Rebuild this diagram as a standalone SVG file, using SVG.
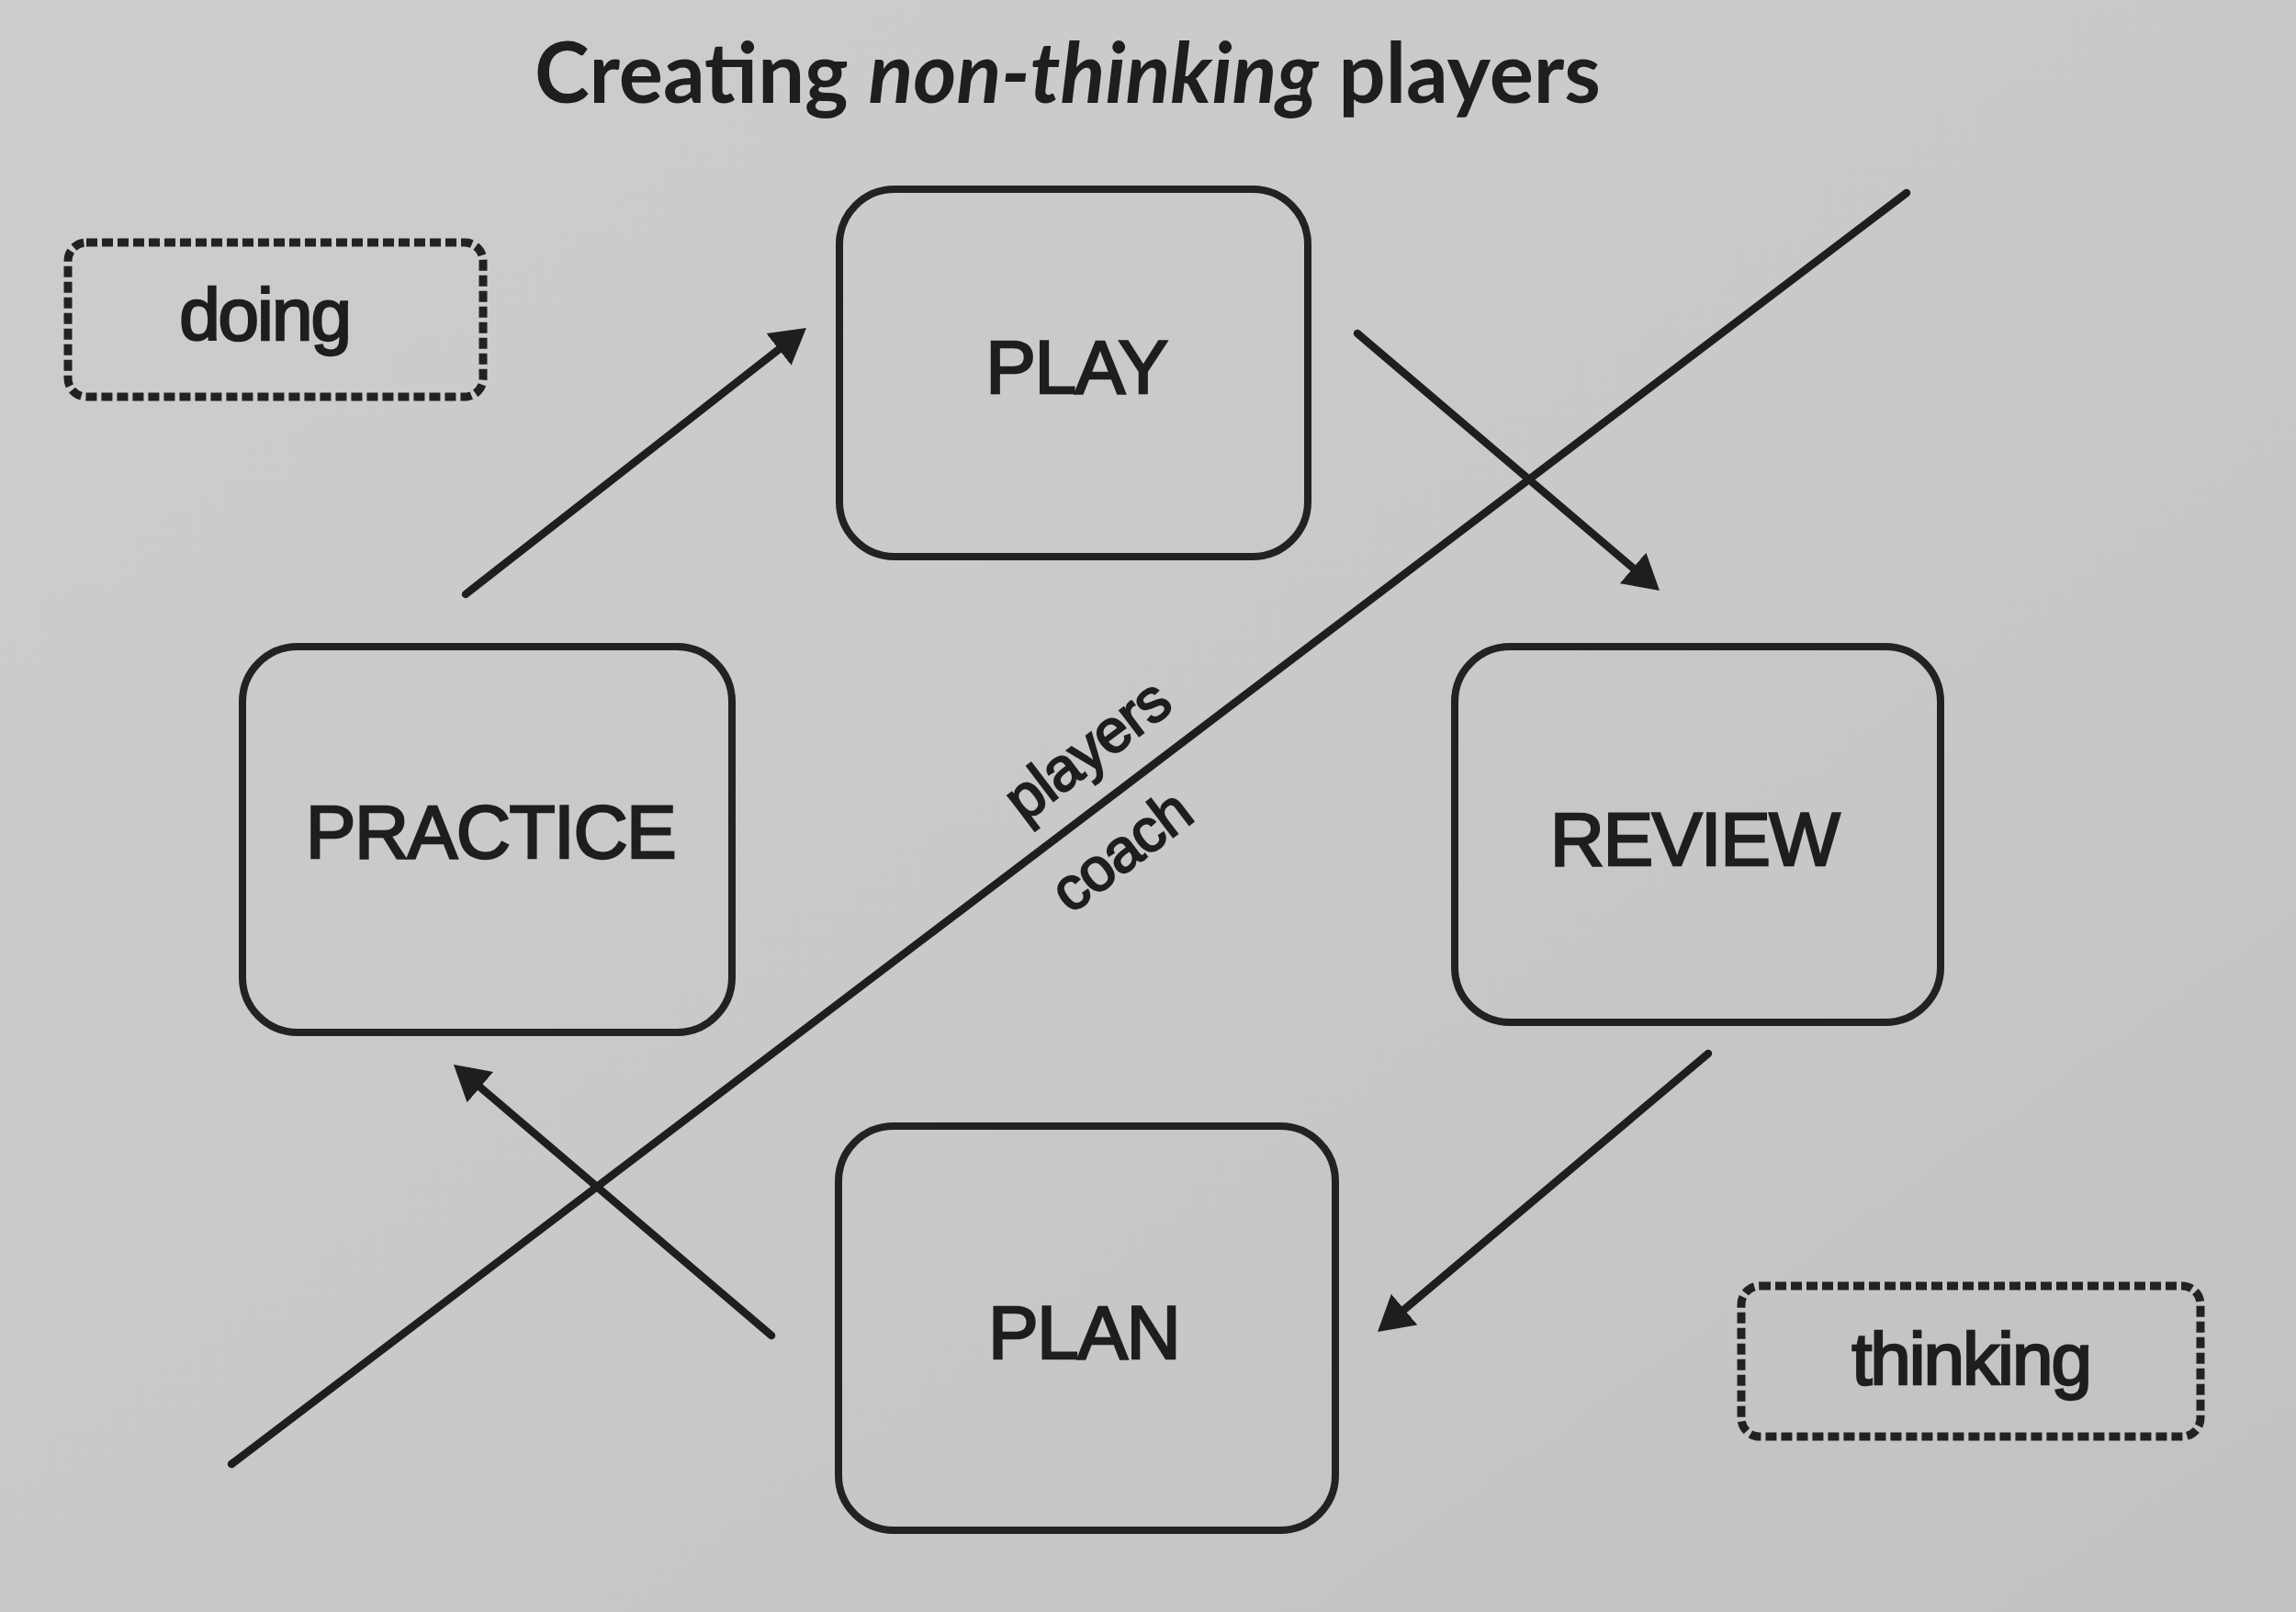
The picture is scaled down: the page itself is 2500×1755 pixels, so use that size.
<svg xmlns="http://www.w3.org/2000/svg" width="2500" height="1755" viewBox="0 0 2500 1755">
  <defs>
    <linearGradient id="paper" x1="0" y1="0" x2="1" y2="1">
      <stop offset="0" stop-color="#cbcecc"/>
      <stop offset="0.5" stop-color="#c7cac8"/>
      <stop offset="1" stop-color="#c0c3c1"/>
    </linearGradient>
    <marker id="arrow" markerUnits="userSpaceOnUse" viewBox="0 0 40 44" refX="26" refY="22" markerWidth="40" markerHeight="44" orient="auto">
      <path d="M0,0 L38,22 L0,44 Z" fill="#1e1e1e"/>
    </marker>
    <style>
      .box { fill: none; stroke: #222; stroke-width: 8; }
      .dash { fill: none; stroke: #222; stroke-width: 9; stroke-dasharray: 12 5; }
      .label { font-family: "Liberation Sans", Arial, sans-serif; font-size: 82px; fill: #1e1e1e; stroke: #1e1e1e; stroke-width: 2.5; text-anchor: middle; letter-spacing: -1.5px; }
      .side { font-family: "Liberation Sans", Arial, sans-serif; font-size: 80px; fill: #1e1e1e; stroke: #1e1e1e; stroke-width: 2.5; text-anchor: middle; letter-spacing: -2px; }
      .diag { font-family: "Liberation Sans", Arial, sans-serif; font-size: 66px; fill: #1e1e1e; stroke: #1e1e1e; stroke-width: 2.2; text-anchor: middle; letter-spacing: -1px; }
      .title { font-family: Lato, "Open Sans", sans-serif; font-size: 92px; font-weight: bold; fill: #1e1e1e; }
      .conn { stroke: #1e1e1e; stroke-width: 8.5; fill: none; stroke-linecap: round; }
    </style>
  </defs>

  <rect x="0" y="0" width="2500" height="1755" fill="url(#paper)"/>

  <g id="title">
    <text class="title" x="582" y="112" textLength="1161" lengthAdjust="spacingAndGlyphs">Creating <tspan font-style="italic">non-thinking</tspan> players</text>
  </g>

  <g id="connectors">
    <line class="conn" x1="252" y1="1594" x2="2076" y2="210" stroke-width="9.5"/>
    <line class="conn" x1="507" y1="647" x2="868.5" y2="364.4" marker-end="url(#arrow)"/>
    <line class="conn" x1="1478" y1="363" x2="1797.9" y2="635.2" marker-end="url(#arrow)"/>
    <line class="conn" x1="1860" y1="1147" x2="1509.2" y2="1442.3" marker-end="url(#arrow)"/>
    <line class="conn" x1="840" y1="1454" x2="503.1" y2="1166.8" marker-end="url(#arrow)"/>
  </g>

  <g id="divider-labels">
    <g transform="translate(1217.5,861.3) rotate(-37.2)">
      <text class="diag" x="0" y="-34">players</text>
    </g>
    <g transform="translate(1188,883.7) rotate(-37.2)">
      <text class="diag" x="0" y="76">coach</text>
    </g>
  </g>

  <g id="node-play">
    <rect class="box" x="914" y="206" width="510" height="400" rx="60" ry="60"/>
    <text class="label" x="1172" y="428">PLAY</text>
  </g>

  <g id="node-practice">
    <rect class="box" x="264" y="704" width="533" height="420" rx="60" ry="60"/>
    <text class="label" x="534" y="934">PRACTICE</text>
  </g>

  <g id="node-review">
    <rect class="box" x="1584" y="704" width="529" height="409" rx="60" ry="60"/>
    <text class="label" x="1845" y="942">REVIEW</text>
  </g>

  <g id="node-plan">
    <rect class="box" x="913" y="1226" width="541" height="440" rx="60" ry="60"/>
    <text class="label" x="1180" y="1479">PLAN</text>
  </g>

  <g id="node-doing">
    <rect class="dash" x="74" y="264" width="452" height="168" rx="20" ry="20"/>
    <text class="side" x="288" y="370">doing</text>
  </g>

  <g id="node-thinking">
    <rect class="dash" x="1896" y="1400" width="500" height="164" rx="20" ry="20"/>
    <text class="side" x="2146" y="1507" font-size="86">thinking</text>
  </g>
</svg>
